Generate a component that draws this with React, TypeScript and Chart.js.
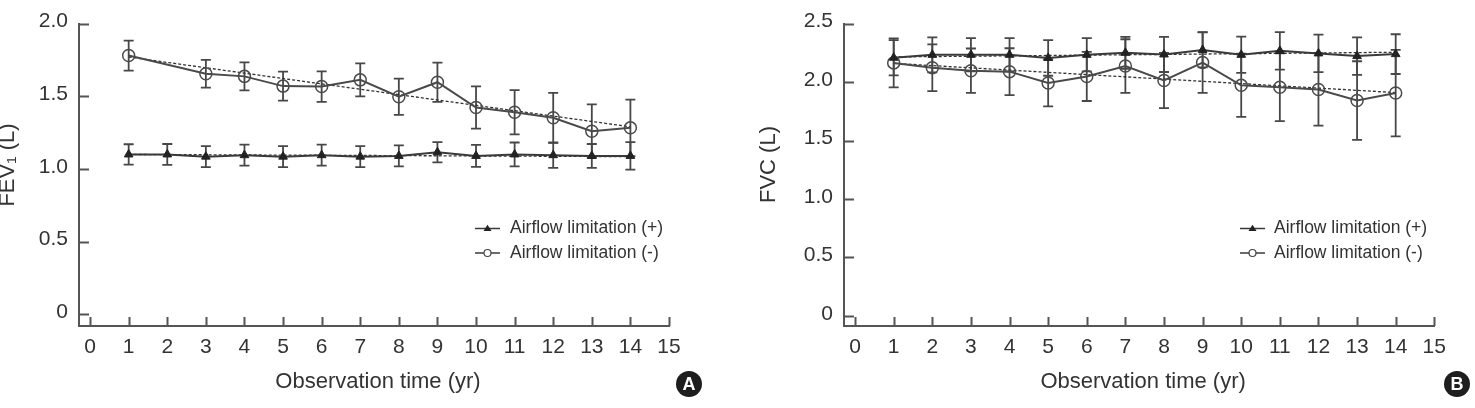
import React, { useEffect, useRef } from "react";
import { Chart, registerables } from "chart.js";

Chart.register(...registerables);

// ---------------- data ----------------
const years = [1, 2, 3, 4, 5, 6, 7, 8, 9, 10, 11, 12, 13, 14];
const xTickValues = [0, 1, 2, 3, 4, 5, 6, 7, 8, 9, 10, 11, 12, 13, 14, 15];
const fevTickValues = [0, 0.5, 1, 1.5, 2];
const fvcTickValues = [0, 0.5, 1, 1.5, 2, 2.5];

const fevPlus = [1.1, 1.1, 1.085, 1.095, 1.085, 1.095, 1.085, 1.09, 1.115, 1.09, 1.1, 1.095, 1.09, 1.09];
const fevPlusSd = [0.07, 0.072, 0.072, 0.072, 0.072, 0.072, 0.072, 0.072, 0.07, 0.076, 0.082, 0.087, 0.082, 0.095];
const fevMinus = [1.78, null, 1.655, 1.637, 1.57, 1.567, 1.613, 1.497, 1.597, 1.423, 1.39, 1.352, 1.26, 1.283];
const fevMinusSd = [0.103, null, 0.095, 0.096, 0.1, 0.105, 0.114, 0.125, 0.135, 0.145, 0.152, 0.172, 0.184, 0.194];

const fvcPlus = [2.208, 2.233, 2.233, 2.233, 2.206, 2.233, 2.25, 2.236, 2.275, 2.233, 2.267, 2.245, 2.222, 2.239];
const fvcPlusSd = [0.15, 0.15, 0.142, 0.142, 0.152, 0.142, 0.137, 0.15, 0.15, 0.155, 0.16, 0.16, 0.16, 0.17];
const fvcMinus = [2.164, 2.122, 2.097, 2.089, 1.992, 2.048, 2.137, 2.014, 2.167, 1.972, 1.956, 1.937, 1.842, 1.906];
const fvcMinusSd = [0.21, 0.2, 0.19, 0.2, 0.2, 0.21, 0.229, 0.236, 0.26, 0.27, 0.29, 0.31, 0.336, 0.37];

const trendYears = [1, 14];
const fevPlusTrend = [1.1, 1.085];
const fevMinusTrend = [1.77, 1.29];
const fvcPlusTrend = [2.215, 2.255];
const fvcMinusTrend = [2.16, 1.91];

const seriesLabels = ["Airflow limitation (+)", "Airflow limitation (-)"];
const xAxisTitle = "Observation time (yr)";
const fevAxisTitle = "FEV\u2081 (L)";
const fvcAxisTitle = "FVC (L)";

// ---------------- styles ----------------
const FONT = "'Liberation Sans', Arial, Helvetica, sans-serif";
const TEXT = "#333333";
const AXIS = "#555555";
const LINE = "#3a3a3a";

function pts(xs: number[], ys: (number | null)[]) {
  return xs.map((x, i) => ({ x, y: ys[i] }));
}

function drawTriangle(ctx: CanvasRenderingContext2D, x: number, y: number, r: number) {
  const h = r * 1.6;
  ctx.beginPath();
  ctx.moveTo(x, y - h * 0.6);
  ctx.lineTo(x + r, y + h * 0.4);
  ctx.lineTo(x - r, y + h * 0.4);
  ctx.closePath();
  ctx.fill();
}

const decorPlugin = {
  id: "decor",
  beforeDatasetsDraw(chart: any) {
    const { ctx } = chart;
    const xs = chart.scales.x;
    const ys = chart.scales.y;
    ctx.save();
    ctx.strokeStyle = "#474747";
    ctx.lineWidth = 1.8;
    chart.data.datasets.forEach((ds: any) => {
      if (!ds.errors) return;
      ds.data.forEach((p: any, i: number) => {
        const sd = ds.errors[i];
        if (p.y == null || sd == null) return;
        const px = xs.getPixelForValue(p.x);
        const t = ys.getPixelForValue(p.y + sd);
        const b = ys.getPixelForValue(p.y - sd);
        ctx.beginPath();
        ctx.moveTo(px, t);
        ctx.lineTo(px, b);
        ctx.moveTo(px - 5, t);
        ctx.lineTo(px + 5, t);
        ctx.moveTo(px - 5, b);
        ctx.lineTo(px + 5, b);
        ctx.stroke();
      });
    });
    ctx.restore();
  },
  afterDraw(chart: any, _args: any, opts: any) {
    const { ctx, chartArea } = chart;
    const xs = chart.scales.x;
    const ys = chart.scales.y;
    ctx.save();
    // inward tick marks
    ctx.strokeStyle = AXIS;
    ctx.lineWidth = 2;
    ctx.beginPath();
    xs.ticks.forEach((t: any) => {
      const px = Math.round(xs.getPixelForValue(t.value)) + 0.5;
      ctx.moveTo(px, chartArea.bottom);
      ctx.lineTo(px, chartArea.bottom - 9);
    });
    ys.ticks.forEach((t: any) => {
      const py = Math.round(ys.getPixelForValue(t.value)) + 0.5;
      ctx.moveTo(chartArea.left, py);
      ctx.lineTo(chartArea.left + 10, py);
    });
    ctx.stroke();

    // axis titles
    ctx.fillStyle = TEXT;
    ctx.font = `22px ${FONT}`;
    ctx.textAlign = "center";
    ctx.textBaseline = "alphabetic";
    ctx.fillText(opts.xTitle, (chartArea.left + chartArea.right) / 2 + 4, 388);
    ctx.save();
    ctx.translate(opts.yTitleX, opts.yTitleY);
    ctx.rotate(-Math.PI / 2);
    ctx.fillText(opts.yTitle, 0, 0);
    ctx.restore();

    // legend
    const rows = opts.legendRows;
    ctx.font = `17.5px ${FONT}`;
    ctx.textAlign = "left";
    ctx.textBaseline = "middle";
    rows.forEach((ry: number, i: number) => {
      const x0 = opts.legendX;
      ctx.strokeStyle = LINE;
      ctx.lineWidth = 1.5;
      ctx.beginPath();
      ctx.moveTo(x0, ry);
      ctx.lineTo(x0 + 25, ry);
      ctx.stroke();
      if (i === 0) {
        ctx.fillStyle = "#222";
        drawTriangle(ctx, x0 + 12.5, ry, 4);
      } else {
        ctx.strokeStyle = "#444";
        ctx.lineWidth = 1.2;
        ctx.fillStyle = "#fff";
        ctx.beginPath();
        ctx.arc(x0 + 12.5, ry, 3.5, 0, Math.PI * 2);
        ctx.fill();
        ctx.stroke();
      }
      ctx.fillStyle = TEXT;
      ctx.fillText(opts.labels[i], opts.legendTextX, ry);
    });

    // panel badge
    ctx.fillStyle = "#1e1e1e";
    ctx.beginPath();
    ctx.arc(opts.badgeX, opts.badgeY, 13, 0, Math.PI * 2);
    ctx.fill();
    ctx.fillStyle = "#ffffff";
    ctx.font = `bold 18px ${FONT}`;
    ctx.textAlign = "center";
    ctx.textBaseline = "middle";
    ctx.fillText(opts.letter, opts.badgeX, opts.badgeY + 1);
    ctx.restore();
  },
};

type PanelProps = {
  pageLeft: number;
  width: number;
  areaLeft: number;
  padRight: number;
  yMin: number;
  yMax: number;
  yTicks: number[];
  plus: number[];
  plusSd: number[];
  minus: (number | null)[];
  minusSd: (number | null)[];
  plusTrend: number[];
  minusTrend: number[];
  yTitle: string;
  yTitleX: number;
  yTitleY: number;
  legendX: number;
  legendTextX: number;
  badgeX: number;
  letter: string;
};

function Panel(p: PanelProps) {
  const ref = useRef<HTMLCanvasElement | null>(null);
  useEffect(() => {
    if (!ref.current) return;
    const chart = new Chart(ref.current, {
      type: "line",
      data: {
        datasets: [
          {
            label: seriesLabels[0],
            data: pts(years, p.plus),
            errors: p.plusSd,
            borderColor: LINE,
            borderWidth: 2,
            pointStyle: "triangle",
            pointRadius: 5,
            pointBackgroundColor: "#222",
            pointBorderColor: "#222",
            pointBorderWidth: 1,
            tension: 0,
          } as any,
          {
            label: seriesLabels[1],
            data: pts(years, p.minus),
            errors: p.minusSd,
            borderColor: "#4a4a4a",
            borderWidth: 2,
            spanGaps: true,
            pointStyle: "circle",
            pointRadius: 6,
            pointBackgroundColor: "rgba(0,0,0,0)",
            pointBorderColor: "#4a4a4a",
            pointBorderWidth: 1.5,
            tension: 0,
          } as any,
          {
            label: "trend +",
            data: pts(trendYears, p.plusTrend),
            borderColor: "#333",
            borderWidth: 1.3,
            borderDash: [3, 2],
            pointRadius: 0,
          },
          {
            label: "trend -",
            data: pts(trendYears, p.minusTrend),
            borderColor: "#333",
            borderWidth: 1.3,
            borderDash: [3, 2],
            pointRadius: 0,
          },
        ],
      },
      options: {
        responsive: false,
        animation: false,
        devicePixelRatio: 1,
        layout: { padding: { left: 0, top: 15.7, right: p.padRight, bottom: 0 } },
        plugins: {
          legend: { display: false },
          tooltip: { enabled: false },
          decor: {
            xTitle: xAxisTitle,
            yTitle: p.yTitle,
            yTitleX: p.yTitleX,
            yTitleY: p.yTitleY,
            legendRows: [228.5, 253],
            legendX: p.legendX,
            legendTextX: p.legendTextX,
            labels: seriesLabels,
            badgeX: p.badgeX,
            badgeY: 384,
            letter: p.letter,
          },
        } as any,
        scales: {
          x: {
            type: "linear",
            min: -0.287,
            max: 15,
            grid: { display: false, drawTicks: false, tickLength: 0 },
            border: { display: true, color: AXIS, width: 2 },
            ticks: {
              padding: 9,
              color: TEXT,
              font: { family: FONT, size: 21 },
              maxRotation: 0,
              autoSkip: false,
              callback: (v: any) => String(v),
            },
            afterBuildTicks: (scale: any) => {
              scale.ticks = xTickValues.map((v) => ({ value: v }));
            },
            afterFit: (scale: any) => {
              scale.height = 408 - 326;
            },
          },
          y: {
            type: "linear",
            min: p.yMin,
            max: p.yMax,
            grid: { display: false, drawTicks: false, tickLength: 0 },
            border: { display: true, color: AXIS, width: 2 },
            ticks: {
              padding: 11,
              labelOffset: -2,
              color: TEXT,
              font: { family: FONT, size: 21 },
              autoSkip: false,
              callback: (v: any) => (Number(v) === 0 ? "0" : Number(v).toFixed(1)),
            },
            afterBuildTicks: (scale: any) => {
              scale.ticks = p.yTicks.map((v) => ({ value: v }));
            },
            afterFit: (scale: any) => {
              scale.width = p.areaLeft;
            },
          },
        },
      } as any,
      plugins: [decorPlugin as any],
    });
    return () => chart.destroy();
  }, []);
  return (
    <canvas
      ref={ref}
      width={p.width}
      height={408}
      style={{ position: "absolute", left: p.pageLeft, top: 0, width: p.width, height: 408 }}
    />
  );
}

export default function App() {
  return (
    <div
      style={{
        position: "absolute",
        left: 0,
        top: 0,
        width: 1475,
        height: 408,
        overflow: "hidden",
        background: "#ffffff",
      }}
    >
      <Panel
        pageLeft={-4}
        width={741}
        areaLeft={83}
        padRight={68}
        yMin={-0.08}
        yMax={2}
        yTicks={fevTickValues}
        plus={fevPlus}
        plusSd={fevPlusSd}
        minus={fevMinus}
        minusSd={fevMinusSd}
        plusTrend={fevPlusTrend}
        minusTrend={fevMinusTrend}
        yTitle={fevAxisTitle}
        yTitleX={17.5}
        yTitleY={165}
        legendX={479}
        legendTextX={514}
        badgeX={693}
        letter="A"
      />
      <Panel
        pageLeft={737}
        width={738}
        areaLeft={107}
        padRight={40.7}
        yMin={-0.086}
        yMax={2.5}
        yTicks={fvcTickValues}
        plus={fvcPlus}
        plusSd={fvcPlusSd}
        minus={fvcMinus}
        minusSd={fvcMinusSd}
        plusTrend={fvcPlusTrend}
        minusTrend={fvcMinusTrend}
        yTitle={fvcAxisTitle}
        yTitleX={38}
        yTitleY={164.5}
        legendX={503}
        legendTextX={537}
        badgeX={720}
        letter="B"
      />
    </div>
  );
}
